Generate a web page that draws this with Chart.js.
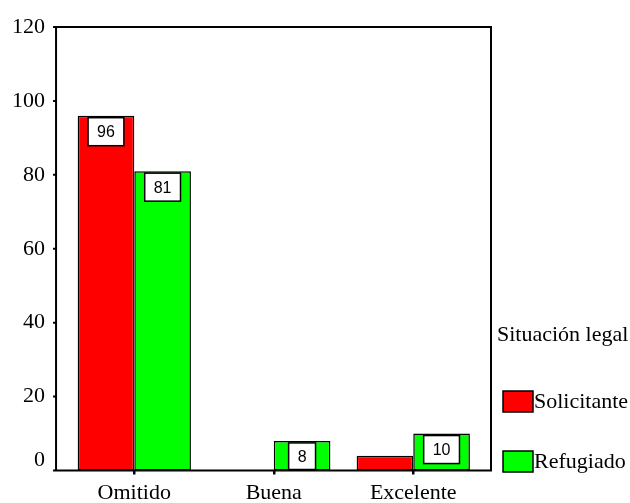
<!DOCTYPE html>
<html lang="es">
<head>
<meta charset="utf-8">
<title>Situación legal</title>
<script src="https://cdn.jsdelivr.net/npm/chart.js@4.4.1/dist/chart.umd.min.js"></script>
<style>
  html, body { margin: 0; padding: 0; background: #fff; }
  canvas { display: block; }
</style>
</head>
<body>
<canvas id="grafico" width="630" height="503"></canvas>
<script>
// Datos (porcentajes)
const categorias = ['Omitido', 'Buena', 'Excelente'];
const solicitante = [96, 0, 4];
const refugiado = [81, 8, 10];
const ticksY = [0, 20, 40, 60, 80, 100, 120];
const tituloLeyenda = 'Situación legal';
const nombresSeries = ['Solicitante', 'Refugiado'];

const SERIF = '"Liberation Serif", "Times New Roman", serif';
const SANS = '"Liberation Sans", Arial, sans-serif';

Chart.defaults.color = '#000';

// Marco del área y marcas del eje Y (el eje va separado de las barras)
const marco = {
    id: 'marco',
    afterDatasetsDraw(chart) {
        const { ctx, chartArea: a, scales: { y } } = chart;
        const izq = a.left - 8.5;
        const der = a.right + 8;
        const arriba = y.getPixelForValue(120);
        const abajo = y.getPixelForValue(0);
        ctx.save();
        ctx.strokeStyle = '#000';
        ctx.lineWidth = 2;
        ctx.beginPath();
        ctx.moveTo(izq - 3, abajo);
        ctx.lineTo(der, abajo);
        ctx.lineTo(der, arriba);
        ctx.lineTo(izq, arriba);
        ctx.lineTo(izq, abajo);
        ticksY.forEach(v => {
            const py = y.getPixelForValue(v);
            ctx.moveTo(izq - 3, py);
            ctx.lineTo(izq, py);
        });
        ctx.stroke();
        ctx.restore();
    }
};

// Etiquetas con el valor dentro de cada barra (solo si cabe la caja)
const etiquetas = {
    id: 'etiquetas',
    afterDatasetsDraw(chart) {
        const { ctx } = chart;
        ctx.save();
        ctx.font = '16px ' + SANS;
        ctx.textAlign = 'center';
        ctx.textBaseline = 'middle';
        ctx.lineWidth = 1.5;
        ctx.strokeStyle = '#000';
        chart.data.datasets.forEach((ds, i) => {
            chart.getDatasetMeta(i).data.forEach((bar, j) => {
                const v = ds.data[j];
                const alto = bar.base - bar.y;
                if (!v || alto < 28) return;
                const w = ctx.measureText(String(v)).width + 18;
                const h = Math.min(28, alto - 3);
                const x0 = bar.x - w / 2;
                const y0 = bar.y + 2;
                ctx.fillStyle = '#fff';
                ctx.fillRect(x0, y0, w, h);
                ctx.strokeRect(x0, y0, w, h);
                ctx.fillStyle = '#000';
                ctx.fillText(String(v), bar.x, y0 + h / 2 + 1);
            });
        });
        ctx.restore();
    }
};

// Leyenda a la derecha con título
const leyenda = {
    id: 'leyenda',
    afterDraw(chart) {
        const { ctx } = chart;
        ctx.save();
        ctx.font = '22px ' + SERIF;
        ctx.textAlign = 'left';
        ctx.textBaseline = 'middle';
        ctx.fillStyle = '#000';
        ctx.fillText(tituloLeyenda, 497, 335);
        chart.data.datasets.forEach((ds, i) => {
            const yb = 391 + i * 60;
            ctx.fillStyle = ds.backgroundColor;
            ctx.fillRect(503, yb, 30, 21);
            ctx.lineWidth = 1.5;
            ctx.strokeStyle = '#000';
            ctx.strokeRect(503, yb, 30, 21);
            ctx.fillStyle = '#000';
            ctx.fillText(ds.label, 534, yb + 11);
        });
        ctx.restore();
    }
};

new Chart(document.getElementById('grafico'), {
    type: 'bar',
    data: {
        labels: categorias,
        datasets: [
            {
                label: nombresSeries[0],
                data: solicitante,
                backgroundColor: '#ff0000',
                borderColor: '#000',
                borderWidth: 1.5,
                borderSkipped: false
            },
            {
                label: nombresSeries[1],
                data: refugiado,
                backgroundColor: '#00ff00',
                borderColor: '#000',
                borderWidth: 1.5,
                borderSkipped: false
            }
        ]
    },
    options: {
        responsive: false,
        animation: false,
        categoryPercentage: 0.812,
        barPercentage: 1,
        layout: { padding: { top: 27, right: 147, left: 0, bottom: 0 } },
        plugins: { legend: { display: false }, tooltip: { enabled: false } },
        scales: {
            x: {
                grid: {
                    display: true,
                    drawOnChartArea: false,
                    drawTicks: true,
                    tickLength: 4,
                    offset: false,
                    color: '#000',
                    lineWidth: 2.5
                },
                border: { display: false },
                ticks: {
                    padding: 6,
                    font: { family: SERIF, size: 22, lineHeight: 1.2 }
                },
                afterFit(scale) {
                    scale.height = 32.5;
                    scale.paddingLeft = 0;
                    scale.paddingRight = 0;
                }
            },
            y: {
                min: 0,
                max: 120,
                grid: { display: false, drawTicks: false },
                border: { display: false },
                afterBuildTicks(scale) {
                    scale.ticks = ticksY.map(v => ({ value: v }));
                },
                ticks: {
                    padding: 19.5,
                    font: { family: SERIF, size: 22, lineHeight: 0.9 },
                    // el 0 se dibuja algo más arriba, como en el original
                    callback: v => (v === 0 ? ['0', ''] : String(v))
                },
                afterFit(scale) {
                    scale.width = 64.55;
                    scale.paddingTop = 0;
                    scale.paddingBottom = 0;
                }
            }
        }
    },
    plugins: [marco, etiquetas, leyenda]
});
</script>
</body>
</html>
